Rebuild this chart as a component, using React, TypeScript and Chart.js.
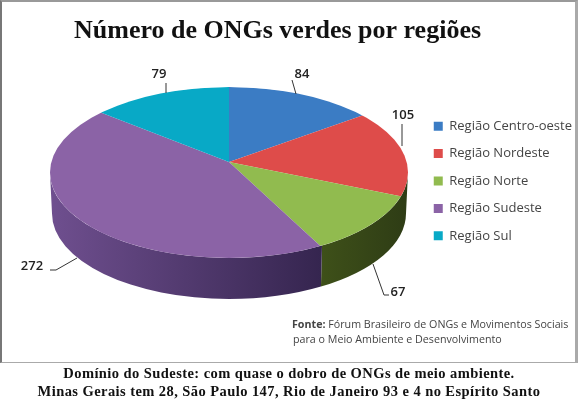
import React, { useEffect, useRef } from "react";
import { Chart, registerables } from "chart.js";

Chart.register(...registerables);

const categories = ["Região Centro-oeste", "Região Nordeste", "Região Norte", "Região Sudeste", "Região Sul"];
const counts = [84, 105, 67, 272, 79];
const faceColors = ["#3b7cc4", "#de4c4a", "#91bb4f", "#8b63a6", "#08a9c6"];
const wallLight = ["#2a5a90", "#7c2424", "#3e5019", "#6f4f8f", "#05788c"];
const wallDark = ["#1f4470", "#5c1a1a", "#2e3c15", "#35254f", "#045c6c"];
const titleText = "Número de ONGs verdes por regiões";
const sourceBold = "Fonte:";
const sourceRest = " Fórum Brasileiro de ONGs e Movimentos Sociais";
const sourceLine2 = "para o Meio Ambiente e Desenvolvimento";
const captionLines = [
  "Domínio do Sudeste: com quase o dobro de ONGs de meio ambiente.",
  "Minas Gerais tem 28, São Paulo 147, Rio de Janeiro 93 e 4 no Espírito Santo",
];

// Geometry of the tilted disc (style, not data)
const DISC = { cx: 229, apexY: 162, centreY: 172.5, rx: 179, ry: 85.5, topRy: 75, bottomRy: 97, depth: 41, topSx: 182, bottomSx: 197 };
// Leader lines + label anchor for every slice, in order
const LEADERS: { pts: number[][]; label: number[] }[] = [
  { pts: [[296, 94], [292, 80]], label: [302, 74] },
  { pts: [[402, 146], [402, 124]], label: [403, 115] },
  { pts: [[373, 264], [384, 295], [389, 295]], label: [398, 292] },
  { pts: [[77, 258], [56, 270], [50, 270]], label: [32, 266] },
  { pts: [[166, 93], [166, 83]], label: [159, 74] },
];

const discPlugin = {
  id: "disc",
  beforeDatasetsDraw(chart: any) {
    const ctx = chart.ctx as CanvasRenderingContext2D;
    const arcs = chart.getDatasetMeta(0).data as any[];
    const { cx, apexY, centreY, rx, ry, topRy, bottomRy, depth, topSx, bottomSx } = DISC;

    // side wall of the disc, one piece per slice facing the viewer
    arcs.forEach((arc, i) => {
      const { startAngle, endAngle } = arc.getProps(["startAngle", "endAngle"]);
      const a1 = Math.max(startAngle, 0);
      const a2 = Math.min(endAngle, Math.PI);
      if (a2 <= a1) return;
      const toT = (a: number) => Math.acos(Math.max(-1, Math.min(1, (bottomSx * Math.cos(a)) / rx)));
      const t1 = toT(a1);
      const t2 = toT(a2);
      const x1 = cx + rx * Math.cos(t1);
      const x2 = cx + rx * Math.cos(t2);
      const g = ctx.createLinearGradient(x2, 0, x1, 0);
      g.addColorStop(0, wallLight[i]);
      g.addColorStop(1, wallDark[i]);
      ctx.save();
      ctx.fillStyle = g;
      ctx.beginPath();
      ctx.ellipse(cx, centreY, rx, ry, 0, t1, t2, false);
      ctx.ellipse(cx, centreY + depth, rx - 2, ry, 0, t2, t1, true);
      ctx.closePath();
      ctx.fill();
      ctx.restore();
    });

    // top face: the library's own arcs, squeezed into perspective
    const halves = [
      { y: apexY - 120, h: 120, sy: topRy, sx: topSx },
      { y: apexY, h: 120, sy: bottomRy, sx: bottomSx },
    ];
    halves.forEach((half) => {
      ctx.save();
      ctx.beginPath();
      ctx.ellipse(cx, centreY, rx, ry, 0, 0, Math.PI * 2);
      ctx.clip();
      ctx.beginPath();
      ctx.rect(0, half.y, 580, half.h);
      ctx.clip();
      arcs.forEach((arc) => {
        const r = arc.outerRadius;
        ctx.save();
        ctx.translate(cx, apexY);
        ctx.scale(half.sx / r, half.sy / r);
        ctx.translate(-arc.x, -arc.y);
        arc.draw(ctx);
        ctx.restore();
      });
      ctx.restore();
    });
    return false;
  },
  afterDraw(chart: any) {
    const ctx = chart.ctx as CanvasRenderingContext2D;
    ctx.save();
    ctx.strokeStyle = "#333";
    ctx.lineWidth = 1;
    ctx.fillStyle = "#222";
    ctx.font = "600 13px 'Open Sans'";
    ctx.textAlign = "center";
    ctx.textBaseline = "middle";
    LEADERS.forEach((l, i) => {
      ctx.beginPath();
      l.pts.forEach((p, k) => (k ? ctx.lineTo(p[0], p[1]) : ctx.moveTo(p[0], p[1])));
      ctx.stroke();
      ctx.fillText(String(counts[i]), l.label[0], l.label[1]);
    });
    ctx.textAlign = "left";
    ctx.fillStyle = "#444";
    ctx.font = "700 10.7px 'Open Sans'";
    ctx.fillText(sourceBold, 292, 325);
    const w = ctx.measureText(sourceBold).width;
    ctx.font = "500 10.7px 'Open Sans'";
    ctx.fillText(sourceRest, 292 + w, 325);
    ctx.fillText(sourceLine2, 293, 340);
    ctx.restore();
  },
};

export default function App() {
  const ref = useRef<HTMLCanvasElement>(null);
  useEffect(() => {
    const chart = new Chart(ref.current!, {
      type: "pie",
      data: {
        labels: categories,
        datasets: [{ data: counts, backgroundColor: faceColors, borderWidth: 0 }],
      },
      options: {
        animation: false,
        responsive: false,
        layout: { padding: { left: 74, right: -2, bottom: 0, top: 0 } },
        plugins: {
          tooltip: { enabled: false },
          title: {
            display: true,
            text: titleText,
            align: "start",
            color: "#111",
            font: { family: "'Liberation Serif'", size: 26, weight: "bold" },
            padding: { top: 16, bottom: 10 },
          },
          legend: {
            position: "right",
            align: "center",
            labels: {
              boxWidth: 9,
              boxHeight: 9,
              padding: 14.4,
              color: "#444",
              font: { family: "'Open Sans'", size: 13 },
            },
          },
        },
      },
      plugins: [discPlugin],
    } as any);
    return () => chart.destroy();
  }, []);
  return (
    <div style={{ position: "absolute", left: 0, top: 0, width: 580, height: 399, background: "#fff", overflow: "hidden" }}>
      <canvas ref={ref} width={580} height={362} style={{ display: "block" }} />
      <div style={{ position: "absolute", left: 0, top: 0, width: 573, height: 360, borderLeft: "2px solid #777", borderTop: "2px solid #999", borderRight: "3px solid #aaa", borderBottom: "1px solid #aaa", boxSizing: "content-box" }} />
      <div style={{ position: "absolute", left: 0, top: 364, width: 578, textAlign: "center", fontFamily: "'Liberation Serif'", fontWeight: "bold", fontSize: 14.5, letterSpacing: 0.43, lineHeight: "18px", color: "#111" }}>
        {captionLines.map((l) => (
          <div key={l}>{l}</div>
        ))}
      </div>
    </div>
  );
}
